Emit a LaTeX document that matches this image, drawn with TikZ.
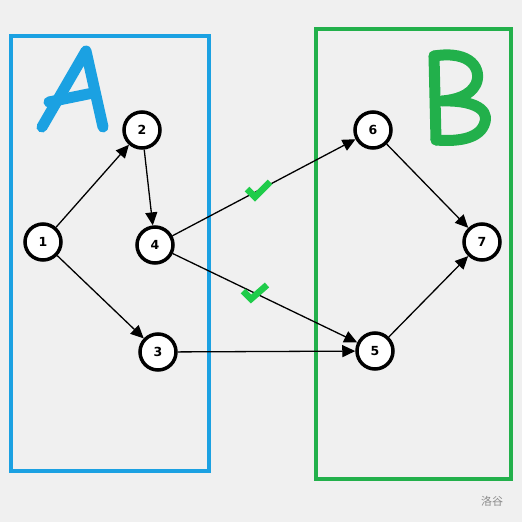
\documentclass[tikz,border=0pt]{standalone}
\usepackage{fontspec}
\setmainfont{DejaVu Sans}
\newfontfamily\cjk{Noto Sans CJK SC}
\usetikzlibrary{arrows.meta}
\definecolor{bg}{HTML}{F0F0F0}
\definecolor{boxA}{HTML}{1BA1E2}
\definecolor{boxB}{HTML}{22B04B}
\definecolor{chk}{HTML}{1FCC4A}
\begin{document}
\begin{tikzpicture}[x=1pt,y=-1pt,
  vert/.style={circle,draw=black,fill=white,line width=3.5pt,minimum size=36pt,inner sep=0pt,font=\bfseries\fontsize{12.5}{12.5}\selectfont},
  edge/.style={line width=1.3pt,-{Triangle[length=13pt,width=12pt]}},
  frame/.style={line width=4pt},
  letter/.style={line width=11pt,line cap=round,line join=round},
  checkmark/.style={chk,line width=6.5pt}]
\fill[bg] (0,0) rectangle (522,522);
\useasboundingbox (0,0) rectangle (522,522);
\draw[frame,boxA] (11,36) rectangle (209,471);
\draw[frame,boxB] (316,29) rectangle (511,479);
% letter A
\draw[letter,boxA] (42,127) -- (86,51) -- (103,127);
\draw[letter,boxA] (49,102) -- (93,93);
% letter B
\draw[letter,boxB] (434,56) -- (436,140);
\draw[letter,boxB] (434,56) .. controls (472,50) and (482,70) .. (476,84) .. controls (470,96) and (455,100) .. (442,101)
  .. controls (470,100) and (489,108) .. (485,122) .. controls (481,138) and (460,142) .. (436,140);
\node[vert] (n1) at (43,242) {1};
\node[vert] (n2) at (142,130) {2};
\node[vert] (n3) at (158,352) {3};
\node[vert] (n4) at (155,245) {4};
\node[vert] (n5) at (375,351) {5};
\node[vert] (n6) at (373,130) {6};
\node[vert] (n7) at (482,242) {7};
\draw[edge] (n1) -- (n2);
\draw[edge] (n1) -- (n3);
\draw[edge] (n2) -- (n4);
\draw[edge] (n4) -- (n6);
\draw[edge] (n4) -- (n5);
\draw[edge] (n3) -- (n5);
\draw[edge] (n6) -- (n7);
\draw[edge] (n5) -- (n7);
\draw[checkmark] (247,189) -- (255,197) -- (270,182);
\draw[checkmark] (243,291) -- (251,299) -- (267,285);
\node[font=\cjk\fontsize{11}{11}\selectfont,text=black!45] (wm) at (492,501) {洛谷};
\end{tikzpicture}
\end{document}
